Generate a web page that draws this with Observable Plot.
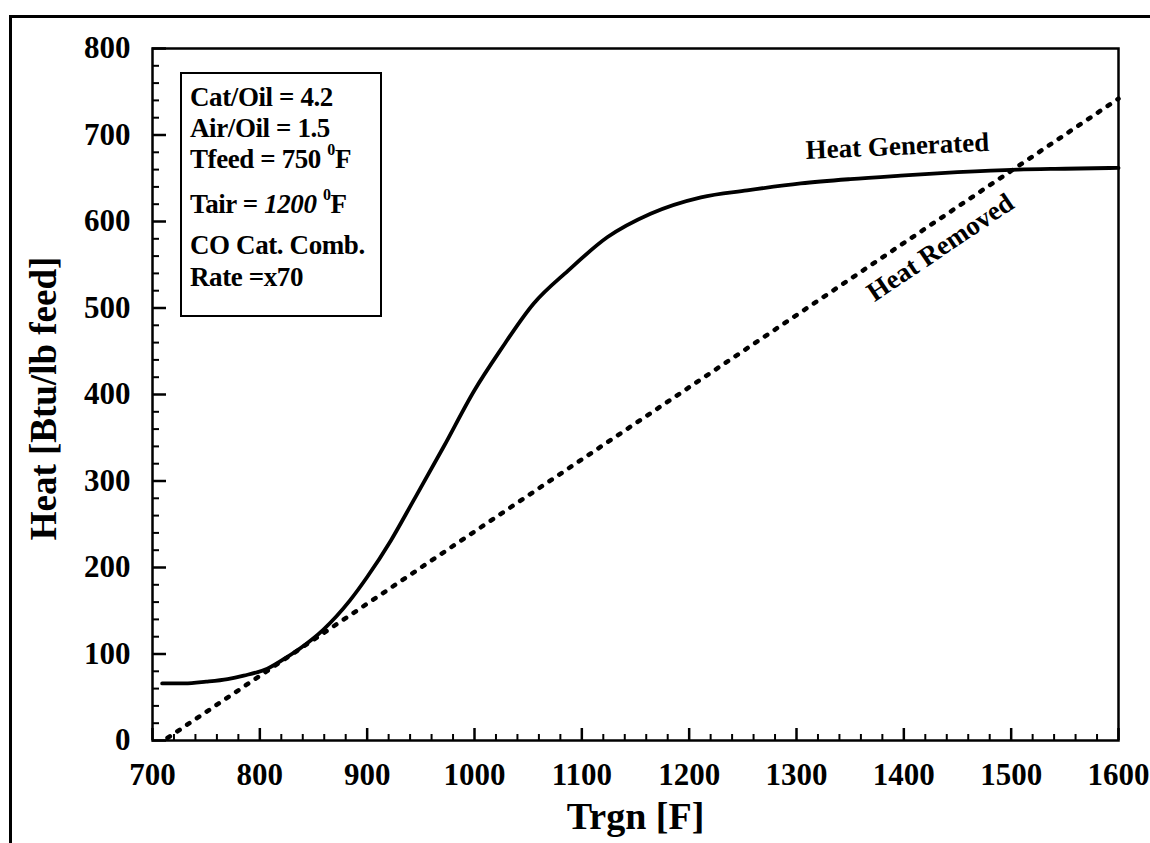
<!DOCTYPE html>
<html>
<head>
<meta charset="utf-8">
<script src="https://cdn.jsdelivr.net/npm/d3@7"></script>
<script src="https://cdn.jsdelivr.net/npm/@observablehq/plot@0.6"></script>
<style>
  html, body { margin: 0; padding: 0; background: #fff; }
  #wrap { position: relative; width: 1150px; height: 843px; overflow: hidden; font-family: "Liberation Serif", "Times New Roman", serif; font-weight: bold; color: #000; }
  #outer { position: absolute; left: 9px; top: 15px; width: 1200px; height: 900px; border-left: 3px solid #000; border-top: 3px solid #000; }
  #legend { position: absolute; left: 180px; top: 72px; width: 198px; height: 241px; border: 2px solid #000; background: #fff; }
  #legend div { position: absolute; left: 8px; font-size: 27px; line-height: 1; white-space: nowrap; letter-spacing: -0.4px; }
  #legend sup { font-size: 16px; position: relative; top: -3px; }
  #chart svg { position: absolute; left: 0; top: 0; }
</style>
</head>
<body>
<div id="wrap">
  <div id="outer"></div>
  <div id="chart"></div>
  <div id="legend"></div>
</div>
<script>
// Trgn [F] values and heat generated [Btu/lb feed]
const genT    = [709, 730, 750, 770, 785, 807, 826, 838, 859, 884, 900, 922, 943, 971, 1000, 1024, 1055, 1087, 1124, 1164, 1211, 1254, 1304, 1350, 1397, 1450, 1506, 1550, 1600];
const genHeat = [66, 66, 68, 71, 75, 83, 97, 107, 128, 162, 189, 231, 277, 339, 405, 451, 505, 543, 582, 609, 628, 636, 644, 649, 653, 657, 660, 661, 662];
// heat removed (straight dotted line)
const remT    = [714, 1600];
const remHeat = [3, 742];

const xMajor = [700, 800, 900, 1000, 1100, 1200, 1300, 1400, 1500, 1600];
const yMajor = [0, 100, 200, 300, 400, 500, 600, 700, 800];
const xMinor = d3.range(720, 1600, 20).filter(v => v % 100 !== 0);
const yMinor = d3.range(20, 800, 20).filter(v => v % 100 !== 0);

const legendLines = [
  "Cat/Oil = 4.2",
  "Air/Oil = 1.5",
  "Tfeed = 750 <sup>0</sup>F",
  "Tair = <i>1200</i> <sup>0</sup>F",
  "CO Cat. Comb.",
  "Rate =x70"
];
const legendTops = [10, 41, 71, 116, 158, 190];

const curveLabels = [
  {text: "Heat Generated", x: 1394, y: 687, rotate: -2.5},
  {text: "Heat Removed", x: 1434, y: 570, rotate: -34}
];

const gen = genT.map((t, i) => ({t, h: genHeat[i]}));
const rem = remT.map((t, i) => ({t, h: remHeat[i]}));

const W = 1150, H = 843, ML = 152, MR = 32, MT = 48, MB = 103;
const frameW = W - ML - MR, frameH = H - MT - MB;
const font = "Liberation Serif";

const chart = Plot.plot({
  width: W,
  height: H,
  marginLeft: ML,
  marginRight: MR,
  marginTop: MT,
  marginBottom: MB,
  style: {fontFamily: font, fontWeight: "bold", background: "transparent", color: "#000"},
  x: {domain: [700, 1600]},
  y: {domain: [0, 800]},
  marks: [
    Plot.frame({strokeWidth: 2.5}),
    // inward ticks along the bottom and left edges of the frame
    Plot.tickX(xMajor, {x: d => d, insetTop: frameH - 12, stroke: "#000", strokeWidth: 2.5}),
    Plot.tickX(xMinor, {x: d => d, insetTop: frameH - 6, stroke: "#000", strokeWidth: 2}),
    Plot.tickY(yMajor, {y: d => d, insetRight: frameW - 14, stroke: "#000", strokeWidth: 2.5}),
    Plot.tickY(yMinor, {y: d => d, insetRight: frameW - 7, stroke: "#000", strokeWidth: 2}),
    // tick labels
    Plot.axisX(xMajor, {tickSize: 0, tickPadding: 22, fontSize: 31, fontWeight: "bold", stroke: "none", label: null, tickFormat: d => String(d)}),
    Plot.axisY(yMajor, {tickSize: 0, tickPadding: 22, fontSize: 31, fontWeight: "bold", stroke: "none", label: null, tickFormat: d => String(d)}),
    // axis titles
    Plot.text(["Trgn [F]"], {frameAnchor: "bottom", dy: 76, fontSize: 38, fontWeight: "bold", lineAnchor: "middle", textAnchor: "middle"}),
    Plot.text(["Heat [Btu/lb feed]"], {frameAnchor: "left", dx: -108, dy: 4, rotate: -90, fontSize: 37, fontWeight: "bold", lineAnchor: "middle", textAnchor: "middle"}),
    // curves
    Plot.line(gen, {x: "t", y: "h", stroke: "#000", strokeWidth: 3.8, curve: "monotone-x"}),
    Plot.line(rem, {x: "t", y: "h", stroke: "#000", strokeWidth: 4.5, strokeDasharray: "2.8,9", strokeLinecap: "round"}),
    Plot.text(curveLabels, {x: "x", y: "y", text: "text", rotate: "rotate", fontSize: 27, fontWeight: "bold", lineAnchor: "middle"})
  ]
});
document.getElementById("chart").appendChild(chart);

const legend = document.getElementById("legend");
legendLines.forEach((html, i) => {
  const d = document.createElement("div");
  d.innerHTML = html;
  d.style.top = legendTops[i] + "px";
  legend.appendChild(d);
});
</script>
</body>
</html>
